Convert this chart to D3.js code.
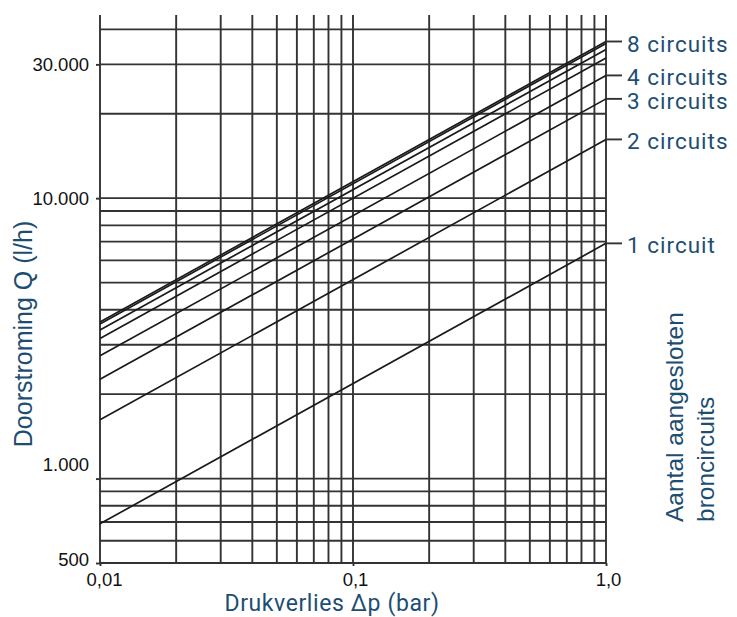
<!DOCTYPE html>
<html>
<head>
<meta charset="utf-8">
<script src="https://cdn.jsdelivr.net/npm/d3@7"></script>
<style>
  body { margin: 0; background: #fff; }
  svg { display: block; }
</style>
</head>
<body>
<svg width="737" height="617"></svg>
<script>
// data: flow Q (l/h) at dp = 0,01 and dp = 1,0 bar
const dpPoints = [0.01, 1.0];
const circuits = [1, 2, 3, 4, 5, 6, 7, 8];
const flowAtLow = [690, 1620, 2260, 2740, 3160, 3390, 3560, 3620];
const flowAtHigh = [6900, 16200, 22600, 27400, 31600, 33900, 35600, 36200];
const seriesLabels = ['1 circuit', '2 circuits', '3 circuits', '4 circuits', '', '', '', '8 circuits'];

const xGrid = [0.01, 0.02, 0.03, 0.04, 0.05, 0.06, 0.07, 0.08, 0.09, 0.1,
               0.2, 0.3, 0.4, 0.5, 0.6, 0.7, 0.8, 0.9, 1.0];
const yGrid = [500, 600, 700, 800, 900, 1000, 2000, 3000, 4000, 5000,
               6000, 7000, 8000, 9000, 10000, 20000, 30000, 40000];
const xTicks = [0.01, 0.1, 1.0];
const xTickLabels = ['0,01', '0,1', '1,0'];
const yTicks = [500, 1000, 10000, 30000];
const yTickLabels = ['500', '1.000', '10.000', '30.000'];

const svg = d3.select('svg');
const plotL = 100, plotR = 606, plotT = 15, plotB = 563;
const blue = '#1d4e72';
const gridColor = '#333';
const sansFont = "'Liberation Sans', Arial, sans-serif";
const dinFont = "Roboto, 'Noto Sans', sans-serif";

const x = d3.scaleLog().domain([0.01, 1]).range([plotL, plotR]);
const y = d3.scaleLog().domain([500, 45000]).range([plotB, plotT]);

// vertical grid
svg.append('g')
  .selectAll('line')
  .data(xGrid)
  .join('line')
    .attr('x1', d => x(d)).attr('x2', d => x(d))
    .attr('y1', plotT).attr('y2', plotB)
    .attr('stroke', gridColor)
    .attr('stroke-width', 1.9);

// horizontal grid
svg.append('g')
  .selectAll('line')
  .data(yGrid)
  .join('line')
    .attr('x1', plotL).attr('x2', plotR)
    .attr('y1', d => y(d)).attr('y2', d => y(d))
    .attr('stroke', gridColor)
    .attr('stroke-width', 1.9);

// y axis labels
const yAxis = d3.axisLeft(y)
  .tickValues(yTicks)
  .tickSize(4)
  .tickPadding(7)
  .tickFormat((d, i) => yTickLabels[i]);
const gy = svg.append('g')
  .attr('transform', `translate(${plotL},0)`)
  .call(yAxis);
gy.select('.domain').remove();
gy.selectAll('.tick line').attr('stroke', gridColor).attr('stroke-width', 1.9);
gy.selectAll('.tick text')
  .style('font-family', sansFont)
  .style('font-size', '18.5px')
  .attr('fill', '#111')
  .attr('dy', d => d === 1000 ? '-0.45em' : d === 500 ? '0.12em' : '0.35em');

// x axis labels
const xAxis = d3.axisBottom(x)
  .tickValues(xTicks)
  .tickSize(3)
  .tickPadding(7)
  .tickFormat((d, i) => xTickLabels[i]);
const gx = svg.append('g')
  .attr('transform', `translate(0,${plotB})`)
  .call(xAxis);
gx.select('.domain').remove();
gx.selectAll('.tick line').attr('stroke', gridColor).attr('stroke-width', 1.9);
gx.selectAll('.tick text')
  .style('font-family', sansFont)
  .style('font-size', '18.5px')
  .attr('fill', '#111')
  .attr('dx', (d, i) => i === 0 ? 4 : 2);

// curves
const line = d3.line()
  .x(d => x(d[0]))
  .y(d => y(d[1]));
const series = circuits.map((c, i) => ({
  n: c,
  label: seriesLabels[i],
  pts: [[dpPoints[0], flowAtLow[i]], [dpPoints[1], flowAtHigh[i]]]
}));
svg.append('g')
  .selectAll('path')
  .data(series)
  .join('path')
    .attr('d', d => line(d.pts))
    .attr('fill', 'none')
    .attr('stroke', '#1a1a1a')
    .attr('stroke-width', 1.7);

// labels at right end
const labelled = series.filter(d => d.label !== '');
const lg = svg.append('g');
lg.selectAll('line')
  .data(labelled)
  .join('line')
    .attr('x1', plotR).attr('x2', plotR + 16)
    .attr('y1', d => y(d.pts[1][1])).attr('y2', d => y(d.pts[1][1]))
    .attr('stroke', gridColor)
    .attr('stroke-width', 1.9);
lg.selectAll('text')
  .data(labelled)
  .join('text')
    .attr('x', plotR + 21)
    .attr('y', d => y(d.pts[1][1]) + 2)
    .attr('dominant-baseline', 'central')
    .style('font-family', dinFont)
    .style('font-size', '22.5px')
    .attr('letter-spacing', 1)
    .attr('fill', blue)
    .text(d => d.label);

// axis titles
svg.append('text')
  .attr('x', 332).attr('y', 611)
  .attr('text-anchor', 'middle')
  .style('font-family', dinFont)
  .style('font-size', '23px')
  .attr('letter-spacing', 0.6)
  .attr('fill', blue)
  .text('Drukverlies Δp (bar)');

svg.append('text')
  .attr('transform', 'translate(32,334) rotate(-90)')
  .attr('text-anchor', 'middle')
  .style('font-family', sansFont)
  .style('font-size', '25px')
  .attr('fill', blue)
  .text('Doorstroming Q (l/h)');

const rt = svg.append('text')
  .attr('transform', 'translate(683,522) rotate(-90)')
  .style('font-family', sansFont)
  .style('font-size', '24.5px')
  .attr('fill', blue);
rt.append('tspan').attr('x', 0).attr('y', 0).text('Aantal aangesloten');
rt.append('tspan').attr('x', 0).attr('y', 31).text('broncircuits');
</script>
</body>
</html>
